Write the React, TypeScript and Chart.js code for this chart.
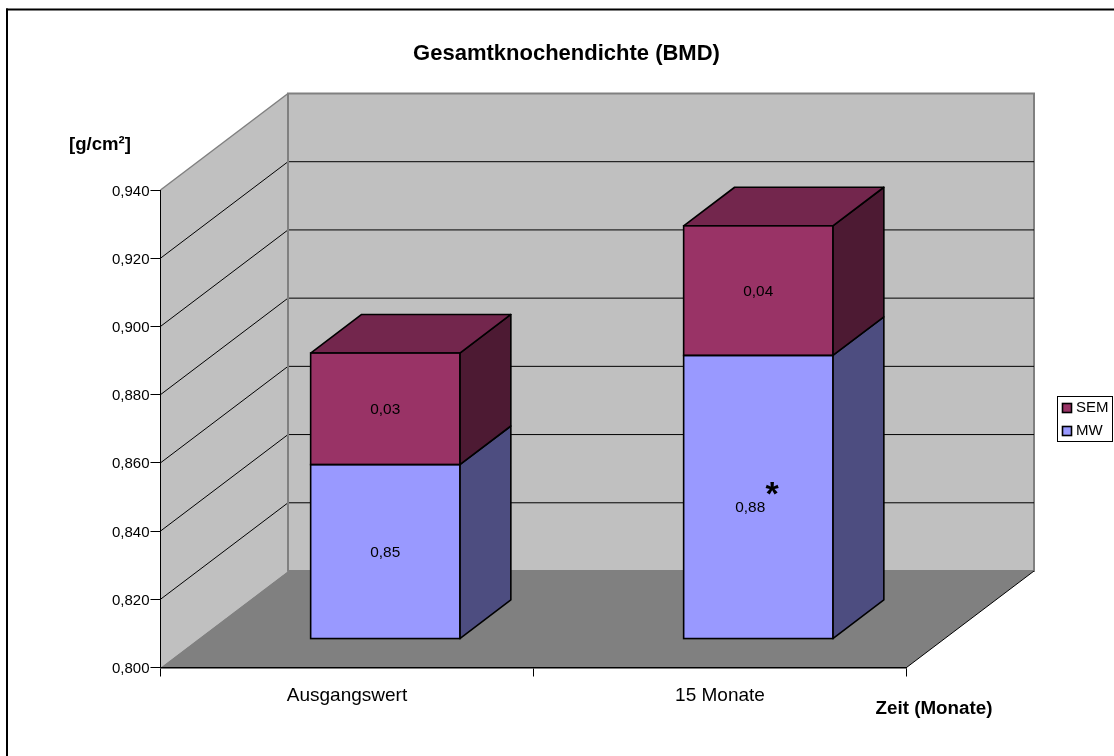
import React, { useEffect, useRef } from "react";
import { Chart, registerables } from "chart.js";

Chart.register(...registerables);

const categories = ["Ausgangswert", "15 Monate"];
const mwValues = [0.851, 0.883];
const semValues = [0.0327, 0.038];
const valueTicks = [0.8, 0.82, 0.84, 0.86, 0.88, 0.9, 0.92, 0.94];
const legendOrder = [1, 0];

const FONT = '"Liberation Sans", Arial, sans-serif';
const WALL = "#C0C0C0";
const FLOOR = "#808080";
const EDGE = "#808080";
const BAR_LINE = 1.6;

// Projection of the chart's depth axis onto the canvas.
const DEPTH_X = 127.5;
const DEPTH_Y = -96.5;
// Bars occupy the middle 40 % of the depth axis.
const BAR_NEAR = 0.3;
const BAR_DEPTH = 0.4;

const comma = (v: number, digits: number) => v.toFixed(digits).replace(".", ",");

const poly = (
  ctx: CanvasRenderingContext2D,
  pts: number[][],
  fill: string | null,
  stroke: string | null,
  lineWidth = 1
) => {
  ctx.beginPath();
  pts.forEach(([x, y], i) => (i ? ctx.lineTo(x, y) : ctx.moveTo(x, y)));
  ctx.closePath();
  if (fill) {
    ctx.fillStyle = fill;
    ctx.fill();
  }
  if (stroke) {
    ctx.strokeStyle = stroke;
    ctx.lineWidth = lineWidth;
    ctx.stroke();
  }
};

const text = (
  ctx: CanvasRenderingContext2D,
  s: string,
  x: number,
  y: number,
  font: string,
  align: CanvasTextAlign = "center"
) => {
  ctx.font = font;
  ctx.fillStyle = "#000";
  ctx.textAlign = align;
  ctx.textBaseline = "middle";
  ctx.fillText(s, x, y);
};

// Walls, floor, frame and the L-shaped gridlines behind the bars.
const roomPlugin = {
  id: "room",
  beforeDraw(chart: any) {
    const { ctx, chartArea: a, scales } = chart;
    const { left: l, right: r, top: t, bottom: b } = a;
    ctx.save();
    ctx.lineJoin = "miter";

    ctx.fillStyle = "#000";
    ctx.fillRect(6, 8.5, 2, 756 - 8.5);
    ctx.fillRect(6, 8.5, 1114 - 6, 2);

    poly(ctx, [[l + DEPTH_X, t + DEPTH_Y], [r + DEPTH_X, t + DEPTH_Y], [r + DEPTH_X, b + DEPTH_Y], [l + DEPTH_X, b + DEPTH_Y]], WALL, EDGE, 2);
    poly(ctx, [[l, t], [l + DEPTH_X, t + DEPTH_Y], [l + DEPTH_X, b + DEPTH_Y], [l, b]], WALL, null);
    ctx.strokeStyle = EDGE;
    ctx.lineWidth = 1.5;
    ctx.beginPath();
    ctx.moveTo(l, t);
    ctx.lineTo(l + DEPTH_X, t + DEPTH_Y);
    ctx.stroke();

    ctx.strokeStyle = "#000";
    ctx.lineWidth = 1;
    valueTicks.slice(1, -1).forEach((v) => {
      const y = scales.y.getPixelForValue(v);
      ctx.beginPath();
      ctx.moveTo(l, y);
      ctx.lineTo(l + DEPTH_X, y + DEPTH_Y);
      ctx.lineTo(r + DEPTH_X, y + DEPTH_Y);
      ctx.stroke();
    });

    ctx.strokeStyle = EDGE;
    ctx.lineWidth = 2;
    ctx.beginPath();
    ctx.moveTo(l + DEPTH_X, t + DEPTH_Y);
    ctx.lineTo(l + DEPTH_X, b + DEPTH_Y);
    ctx.stroke();

    poly(ctx, [[l, b], [l + DEPTH_X, b + DEPTH_Y], [r + DEPTH_X, b + DEPTH_Y], [r, b]], FLOOR, null);
    ctx.strokeStyle = "#000";
    ctx.lineWidth = 1;
    ctx.beginPath();
    ctx.moveTo(r, b);
    ctx.lineTo(r + DEPTH_X, b + DEPTH_Y);
    ctx.stroke();
    ctx.restore();
  },
};

// Side and top faces come first; the library then fills the front faces,
// shifted back along the depth axis, and the translation is undone afterwards.
const boxPlugin = {
  id: "boxes",
  beforeDatasetsDraw(chart: any) {
    const { ctx, scales } = chart;
    const nx = DEPTH_X * BAR_NEAR;
    const ny = DEPTH_Y * BAR_NEAR;
    const dx = DEPTH_X * BAR_DEPTH;
    const dy = DEPTH_Y * BAR_DEPTH;
    const floor = scales.y.getPixelForValue(valueTicks[0]);
    ctx.save();
    ctx.lineJoin = "round";
    chart.data.datasets.forEach((ds: any, di: number) => {
      chart.getDatasetMeta(di).data.forEach((el: any) => {
        const { x, y, base, width } = el.getProps(["x", "y", "base", "width"], true);
        const left = x - width / 2 + nx;
        const right = x + width / 2 + nx;
        const top = y + ny;
        const bot = Math.min(base, floor) + ny;
        poly(ctx, [[right, top], [right + dx, top + dy], [right + dx, bot + dy], [right, bot]], ds.sideColor, "#000", BAR_LINE);
        if (di === chart.data.datasets.length - 1) {
          poly(ctx, [[left, top], [left + dx, top + dy], [right + dx, top + dy], [right, top]], ds.topColor, "#000", BAR_LINE);
        }
      });
    });
    ctx.restore();
    ctx.save();
    ctx.translate(nx, ny);
  },
  afterDatasetsDraw(chart: any) {
    const { ctx, scales } = chart;
    // Outlines go on last so that stacked segments share one dividing line;
    // the lowest segment is cut off at the axis minimum.
    const floor = scales.y.getPixelForValue(valueTicks[0]);
    ctx.strokeStyle = "#000";
    ctx.lineWidth = BAR_LINE;
    chart.data.datasets.forEach((_: any, di: number) => {
      chart.getDatasetMeta(di).data.forEach((el: any) => {
        const bot = Math.min(el.base, floor);
        ctx.strokeRect(el.x - el.width / 2, el.y, el.width, bot - el.y);
      });
    });
    ctx.restore();
  },
};

const LABEL_SHIFT: Record<string, number[]> = { "0-1": [-8, 10] };

// Titles, value labels, the significance mark and the framed legend.
const annotationPlugin = {
  id: "annotations",
  afterDraw(chart: any) {
    const { ctx } = chart;
    const nx = DEPTH_X * BAR_NEAR;
    const ny = DEPTH_Y * BAR_NEAR;
    const floor = chart.scales.y.getPixelForValue(valueTicks[0]);
    ctx.save();

    text(ctx, "Gesamtknochendichte (BMD)", 566.5, 54, `bold 22px ${FONT}`);
    text(ctx, "[g/cm²]", 100, 145, `bold 18.6px ${FONT}`);
    text(ctx, "Zeit (Monate)", 934, 709, `bold 18.8px ${FONT}`);

    chart.data.datasets.forEach((ds: any, di: number) => {
      chart.getDatasetMeta(di).data.forEach((el: any, i: number) => {
        const [sx, sy] = LABEL_SHIFT[`${di}-${i}`] || [0, 0];
        const bot = Math.min(el.base, floor);
        text(ctx, comma(ds.data[i], 2), el.x + nx + sx, (el.y + bot) / 2 + ny + sy + 1, `15.4px ${FONT}`);
      });
    });

    text(ctx, "*", 772, 496, `bold 34px ${FONT}`);

    ctx.strokeStyle = "#000";
    ctx.lineWidth = 1;
    ctx.strokeRect(1057.5, 396.5, 55, 45);
    legendOrder.forEach((di, row) => {
      const ds = chart.data.datasets[di];
      const y = 408 + row * 23;
      ctx.fillStyle = ds.backgroundColor;
      ctx.fillRect(1062.5, y - 4.5, 9, 9);
      ctx.lineWidth = 1.6;
      ctx.strokeRect(1062.5, y - 4.5, 9, 9);
      text(ctx, ds.label, 1076, y, `15px ${FONT}`, "left");
    });
    ctx.restore();
  },
};

export default function App() {
  const ref = useRef<HTMLCanvasElement>(null);

  useEffect(() => {
    const chart = new Chart(ref.current as HTMLCanvasElement, {
      type: "bar",
      data: {
        labels: categories,
        datasets: [
          {
            label: "MW",
            data: mwValues,
            backgroundColor: "#9999FF",
            sideColor: "#4D4D80",
            borderWidth: 0,
          },
          {
            label: "SEM",
            data: semValues,
            backgroundColor: "#993366",
            sideColor: "#4D1A33",
            topColor: "#73264D",
            borderWidth: 0,
          },
        ] as any,
      },
      options: {
        responsive: false,
        animation: false,
        layout: { padding: { left: 0, top: 190, right: 207.5, bottom: 0 } },
        datasets: { bar: { barPercentage: 0.4, categoryPercentage: 1 } },
        plugins: { legend: { display: false }, title: { display: false }, tooltip: { enabled: false } },
        scales: {
          x: {
            stacked: true,
            grid: { drawOnChartArea: false, tickLength: 9, tickColor: "#000", offset: true },
            border: { color: "#000", width: 1.5 },
            ticks: { color: "#000", font: { family: FONT, size: 19 }, padding: 8, maxRotation: 0 },
            afterFit(scale: any) {
              scale.height = 756 - 667.5;
            },
          },
          y: {
            stacked: true,
            min: valueTicks[0],
            max: valueTicks[valueTicks.length - 1],
            afterBuildTicks(scale: any) {
              scale.ticks = valueTicks.map((value) => ({ value }));
            },
            grid: { drawOnChartArea: false, tickLength: 10, tickColor: "#000" },
            border: { color: "#000", width: 1 },
            ticks: {
              color: "#000",
              font: { family: FONT, size: 15, lineHeight: 0.2 },
              padding: 1,
              // The empty first line nudges each label just below its tick.
              callback: (v: any) => ["", comma(Number(v), 3)],
            },
            afterFit(scale: any) {
              scale.width = 160.5;
            },
          },
        },
      } as any,
      plugins: [roomPlugin, boxPlugin, annotationPlugin],
    });
    return () => chart.destroy();
  }, []);

  return (
    <div style={{ position: "absolute", left: 0, top: 0, width: 1114, height: 756, background: "#fff" }}>
      <canvas ref={ref} width={1114} height={756} style={{ display: "block" }} />
    </div>
  );
}
